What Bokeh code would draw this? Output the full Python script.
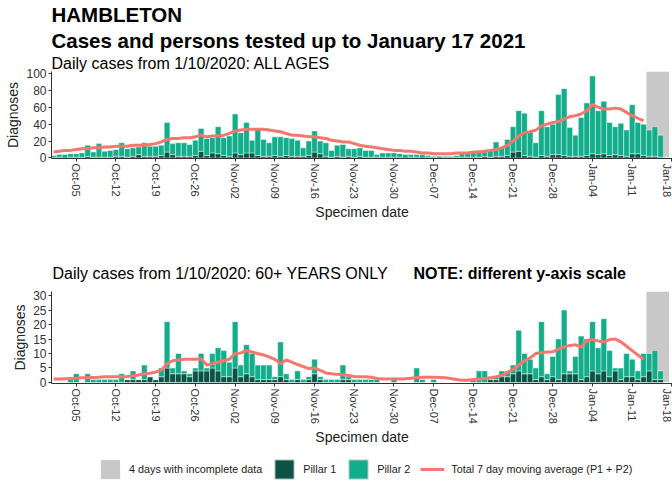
import numpy as np
import pandas as pd
from bokeh.plotting import figure
from bokeh.models import (ColumnDataSource, Range1d, FixedTicker, Title,
                          Legend, LegendItem)
from bokeh.core.properties import value
from bokeh.layouts import column
from bokeh.embed import file_html
from bokeh.resources import INLINE

FONT = "Liberation Sans"
DARK = "#0a5445"
TEAL = "#12ae8c"
RED = "#f8766d"
GREY = "#c8c8c8"
TXT = "#222222"
W = 672

# ---------------- data ----------------
dates = pd.date_range("2020-10-01", "2021-01-17", freq="D")
incomplete_dates = pd.date_range("2021-01-14", "2021-01-17", freq="D")
tick_dates = pd.date_range("2020-10-05", "2021-01-18", freq="7D")
tick_labels = ["Oct-05", "Oct-12", "Oct-19", "Oct-26", "Nov-02", "Nov-09", "Nov-16",
               "Nov-23", "Nov-30", "Dec-07", "Dec-14", "Dec-21", "Dec-28", "Jan-04",
               "Jan-11", "Jan-18"]

# All ages
all_p1 = [1, 1, 0, 1, 1, 1, 2, 1, 1, 1,
          1, 2, 2, 1, 2, 4, 2, 2, 2, 3,
          7, 4, 2, 2, 2, 3, 8, 3, 6, 5,
          3, 2, 6, 4, 6, 6, 3, 2, 2, 3,
          2, 3, 2, 2, 2, 3, 7, 5, 2, 1,
          2, 1, 2, 1, 2, 1, 1, 1, 1, 1,
          1, 1, 0, 1, 1, 0, 1, 1, 0, 1,
          1, 1, 1, 1, 1, 1, 2, 1, 2, 2,
          3, 7, 8, 3, 2, 1, 3, 2, 4, 4,
          3, 2, 2, 2, 3, 5, 4, 5, 3, 4,
          3, 2, 5, 5, 3, 2, 2, 1, 0]
all_p2 = [2, 3, 4, 4, 4, 5, 13, 6, 16, 7,
          8, 8, 16, 10, 10, 9, 16, 12, 12, 12,
          35, 13, 16, 16, 14, 18, 27, 20, 18, 32,
          21, 24, 46, 26, 36, 15, 31, 20, 16, 22,
          23, 21, 21, 19, 10, 17, 25, 15, 16, 8,
          13, 15, 9, 10, 10, 8, 8, 3, 5, 5,
          5, 4, 4, 3, 3, 4, 2, 1, 2, 1,
          1, 2, 4, 6, 7, 8, 5, 8, 17, 10,
          19, 30, 48, 50, 29, 17, 53, 35, 36, 71,
          79, 34, 25, 46, 62, 92, 52, 62, 39, 33,
          38, 31, 58, 37, 37, 31, 35, 26, 0]
all_ma = [7, 8, 9, 9, 10, 11, 11, 12, 12, 13,
          13, 14, 14, 14, 15, 15, 15, 16, 17, 19,
          22, 23, 23, 24, 24, 25, 27, 25, 26, 26,
          27, 29, 32, 33, 34, 34, 34, 34, 33, 32,
          31, 29, 27, 27, 26, 25, 25, 24, 23, 21,
          20, 19, 19, 17, 15, 14, 13, 12, 11, 10,
          9, 9, 8, 8, 7, 6, 6, 5, 5, 5,
          5, 6, 6, 6, 7, 7, 8, 9, 10, 12,
          15, 20, 26, 30, 31, 33, 38, 40, 42, 43,
          46, 49, 50, 52, 56, 63, 60, 58, 58, 59,
          58, 54, 50, 47, 44]

# 60+ years
old_p1 = [0, 0, 0, 0, 0, 0, 0, 0, 0, 0,
          0, 0, 0, 1, 1, 1, 1, 2, 1, 2,
          5, 3, 3, 3, 2, 4, 4, 4, 5, 4,
          2, 2, 5, 2, 3, 2, 1, 1, 1, 1,
          2, 1, 0, 1, 0, 1, 3, 1, 0, 0,
          0, 1, 1, 0, 0, 0, 0, 0, 0, 0,
          0, 0, 0, 0, 0, 0, 0, 0, 0, 0,
          0, 0, 0, 0, 0, 0, 0, 1, 1, 2,
          2, 3, 4, 3, 3, 1, 2, 1, 2, 1,
          3, 3, 3, 1, 2, 4, 3, 4, 2, 4,
          1, 2, 2, 1, 2, 4, 1, 1, 0]
old_p2 = [0, 0, 0, 1, 3, 0, 3, 1, 1, 1,
          1, 1, 3, 0, 3, 0, 5, 0, 0, 3,
          16, 2, 7, 1, 1, 1, 6, 1, 5, 8,
          9, 5, 16, 4, 10, 8, 5, 5, 5, 1,
          12, 2, 1, 3, 1, 1, 5, 1, 1, 1,
          1, 5, 1, 1, 1, 1, 1, 1, 0, 0,
          1, 0, 0, 0, 5, 1, 0, 1, 0, 0,
          0, 0, 0, 0, 1, 4, 4, 1, 1, 2,
          2, 3, 14, 7, 5, 4, 19, 2, 7, 14,
          22, 1, 6, 15, 13, 17, 9, 18, 9, 1,
          4, 8, 6, 3, 8, 6, 10, 3, 0]
old_ma = [1.2, 1.2, 1.3, 1.4, 1.5, 1.6, 1.6, 1.7, 1.8, 2.0,
          2.0, 2.0, 2.0, 2.1, 2.3, 2.6, 3.0, 3.2, 3.6, 4.3,
          6.5, 7.5, 7.8, 8.0, 8.0, 8.0, 8.2, 6.0, 6.5, 7.0,
          7.5, 8.0, 10.0, 10.2, 11.0, 10.5, 10.0, 9.5, 8.8, 8.0,
          6.5, 7.8, 7.0, 6.2, 5.5, 4.8, 5.0, 4.2, 3.3, 3.0,
          2.8, 2.7, 2.4, 2.1, 2.0, 2.0, 1.8, 1.4, 1.2, 1.2,
          1.2, 1.2, 1.3, 1.5, 1.7, 1.8, 1.8, 1.8, 1.7, 1.6,
          1.4, 1.0, 0.8, 0.8, 1.0, 1.2, 1.4, 1.6, 2.0, 2.4,
          3.5, 4.5, 6.0, 7.5, 8.5, 10.0, 10.3, 10.5, 10.6, 11.5,
          12.3, 12.8, 13.0, 12.2, 14.5, 14.8, 14.3, 14.0, 14.8, 15.0,
          14.0, 12.5, 11.0, 9.5, 8.0]

all_yticks = [0, 20, 40, 60, 80, 100]
old_yticks = [0, 5, 10, 15, 20, 25, 30]

# ---------------- helpers ----------------
day = (dates - dates[0]).days.to_numpy()
tick_pos = list((tick_dates - dates[0]).days)
overrides = {int(t): lab for t, lab in zip(tick_pos, tick_labels)}
inc_lo = (incomplete_dates[0] - dates[0]).days - 0.5
inc_hi = (incomplete_dates[-1] - dates[0]).days + 0.5
LEFT = 51  # width of the y-axis area


def bare(p):
    p.outline_line_color = None
    p.xgrid.visible = False
    p.ygrid.visible = False
    p.background_fill_color = "white"
    p.border_fill_color = "white"


def panel(p1, p2, ma, yr, yticks, height, b_top, b_bottom):
    p = figure(width=W, height=height, output_backend="svg", toolbar_location=None,
               x_range=Range1d(-0.37, 109.1), y_range=Range1d(*yr),
               min_border_left=LEFT, min_border_right=0,
               min_border_top=b_top, min_border_bottom=b_bottom, title=None)
    bare(p)
    gsrc = ColumnDataSource(dict(left=[inc_lo], right=[inc_hi], bottom=[0], top=[yr[1]]))
    p.quad(left="left", right="right", bottom="bottom", top="top", source=gsrc,
           fill_color=GREY, line_color=None)

    src = ColumnDataSource(dict(day=day, p1=p1, p2=p2))
    p.vbar_stack(["p1", "p2"], x="day", width=1.0, color=[DARK, TEAL], source=src,
                 line_color="white", line_alpha=0.55, line_width=0.8)
    p.line(day[:len(ma)], ma, line_color=RED, line_width=3, line_join="round")

    p.yaxis.ticker = FixedTicker(ticks=yticks)
    p.xaxis.ticker = FixedTicker(ticks=tick_pos)
    p.xaxis.major_label_overrides = overrides
    p.xaxis.major_label_orientation = "vertical"
    p.xaxis.axis_label = "Specimen date"
    p.yaxis.axis_label = "Diagnoses"
    for ax in (p.xaxis[0], p.yaxis[0]):
        ax.axis_line_color = "#333333"
        ax.major_tick_line_color = "#333333"
        ax.minor_tick_line_color = None
        ax.major_tick_in = 0
        ax.major_tick_out = 3
        ax.major_label_text_font = FONT
        ax.major_label_text_color = "#333333"
        ax.axis_label_text_font = FONT
        ax.axis_label_text_font_style = "normal"
        ax.axis_label_text_font_size = "14px"
        ax.axis_label_text_color = TXT
        ax.major_label_standoff = 2
        ax.axis_label_standoff = 2
    p.xaxis.major_label_text_font_size = "11px"
    p.yaxis.major_label_text_font_size = "12px"
    return p


def title(text, size, style, standoff):
    return Title(text=text, text_font=FONT, text_font_size=size, text_font_style=style,
                 text_color="black", align="left", standoff=standoff)


# ---------------- top panel ----------------
p_top = panel(all_p1, all_p2, all_ma, (-0.6, 102.3), all_yticks, 228, 70, 70)
p_top.add_layout(title("Daily cases from 1/10/2020: ALL AGES", "16px", "normal", 0), "above")
p_top.add_layout(title("Cases and persons tested up to January 17 2021", "20.5px", "bold", 2), "above")
p_top.add_layout(title("HAMBLETON", "20.5px", "bold", 0), "above")

# ---------------- header of bottom panel ----------------
HW = W - LEFT
p_hdr = figure(width=W, height=54, output_backend="svg", toolbar_location=None,
               x_range=Range1d(0, HW), y_range=Range1d(0, 54),
               x_axis_location=None, y_axis_location=None, min_border=0, title=None)
bare(p_hdr)
p_hdr.text(x=[1], y=[9], text=["Daily cases from 1/10/2020: 60+ YEARS ONLY"],
           text_font=value(FONT), text_font_size="16px", text_color="black",
           text_baseline="alphabetic")
p_hdr.text(x=[362], y=[9], text=["NOTE: different y-axis scale"],
           text_font=value(FONT), text_font_size="16px", text_font_style="bold",
           text_color="black", text_baseline="alphabetic")

# ---------------- bottom panel ----------------
p_bot = panel(old_p1, old_p2, old_ma, (-0.35, 31.4), old_yticks, 165, 9, 64)

# ---------------- legend ----------------
p_leg = figure(width=W, height=36, output_backend="svg", toolbar_location=None,
               x_range=Range1d(0, 1), y_range=Range1d(0, 1),
               x_axis_location=None, y_axis_location=None, min_border=0, title=None)
bare(p_leg)
r_inc = p_leg.quad(left=[2], right=[3], bottom=[2], top=[3], fill_color=GREY, line_color=None)
r_p1 = p_leg.quad(left=[2], right=[3], bottom=[2], top=[3], fill_color=DARK,
                  line_color="#d0d0d0", line_width=1)
r_p2 = p_leg.quad(left=[2], right=[3], bottom=[2], top=[3], fill_color=TEAL,
                  line_color="#d0d0d0", line_width=1)
r_ma = p_leg.line(x=[2, 3], y=[2, 2], line_color=RED, line_width=3)
legend = Legend(items=[
    LegendItem(label="4 days with incomplete data", renderers=[r_inc]),
    LegendItem(label="Pillar 1", renderers=[r_p1]),
    LegendItem(label="Pillar 2", renderers=[r_p2]),
    LegendItem(label="Total 7 day moving average (P1 + P2)", renderers=[r_ma]),
], orientation="horizontal", location=(47, 2), glyph_width=24, glyph_height=24,
    label_text_font=FONT, label_text_font_size="10.8px", label_text_color=TXT,
    label_height=24, spacing=10, label_standoff=7, padding=0, margin=0,
    border_line_color=None, background_fill_alpha=0)
p_leg.add_layout(legend, "center")

layout = column(p_top, p_hdr, p_bot, p_leg, spacing=0)
open("out.html", "w").write(file_html(layout, INLINE))
